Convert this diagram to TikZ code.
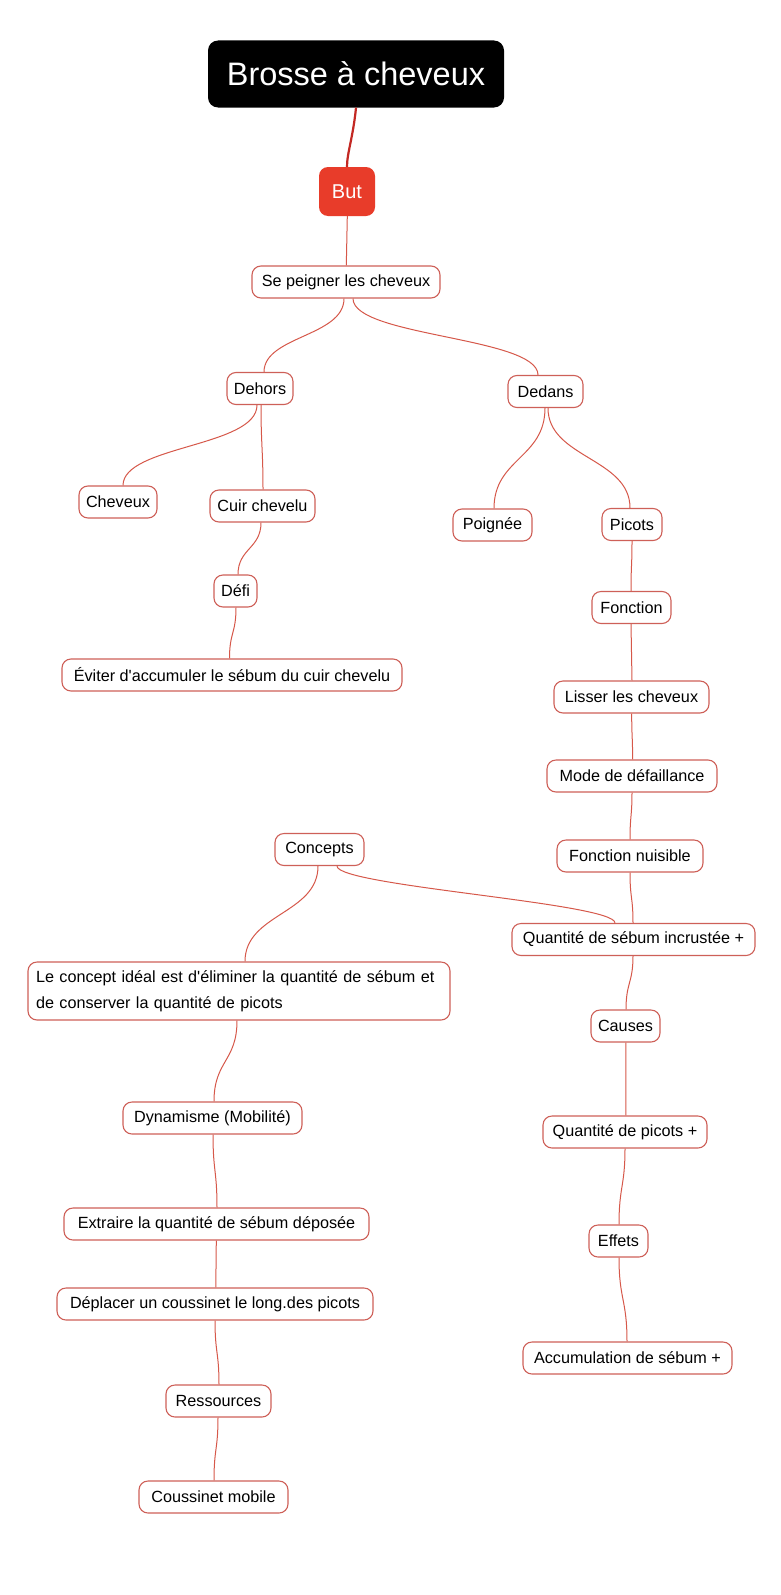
\documentclass[tikz,border=0pt]{standalone}
\usepackage{fontspec}
\setmainfont{Liberation Sans}[Ligatures=TeXOff]
\usetikzlibrary{calc}
\definecolor{edgec}{RGB}{214,88,74}
\definecolor{boxc}{RGB}{206,96,88}
\definecolor{butred}{RGB}{232,60,42}
\definecolor{rootline}{RGB}{195,40,35}
\tikzset{
  box/.style={draw=boxc, line width=1.1pt, rounded corners=9pt, fill=white,
    minimum height=32pt, inner xsep=4pt, inner ysep=3pt,
    font=\fontsize{16.2}{20}\selectfont, text=black},
  edge/.style={draw=edgec, line width=1pt},
}
\begin{document}
\begin{tikzpicture}[x=1pt,y=-1pt]
\useasboundingbox[fill=white] (0,0) rectangle (780,1595);

% nodes
\node[fill=black, rounded corners=10pt, minimum width=296pt, minimum height=67pt,
  text=white, font=\fontsize{32.5}{36}\selectfont] (title) at (356,74) {Brosse à cheveux};
\node[fill=butred, rounded corners=9pt, minimum width=56pt, minimum height=49pt,
  text=white, font=\fontsize{20}{24}\selectfont] (but) at (347,191.5) {But};

\node[box, minimum width=188pt] (sp) at (346,282) {Se peigner les cheveux};
\node[box, minimum width=66pt] (dehors) at (260,388.5) {Dehors};
\node[box, minimum width=75pt] (dedans) at (545.5,391.5) {Dedans};
\node[box, minimum width=78pt] (cheveux) at (118,502) {Cheveux};
\node[box, minimum width=105pt] (cuir) at (262.5,506) {Cuir chevelu};
\node[box, minimum width=43pt] (defi) at (235.5,591) {Défi};
\node[box, minimum width=340pt] (eviter) at (232,675) {Éviter d'accumuler le sébum du cuir chevelu};
\node[box, minimum width=79pt] (poignee) at (492.5,525) {Poignée};
\node[box, minimum width=60pt] (picots) at (632,524.5) {Picots};
\node[box, minimum width=79pt] (fonction) at (631.5,607.5) {Fonction};
\node[box, minimum width=155pt] (lisser) at (631.5,697) {Lisser les cheveux};
\node[box, minimum width=170pt] (mode) at (632,776) {Mode de défaillance};
\node[box, minimum width=146pt] (fn) at (630,856) {Fonction nuisible};
\node[box, minimum width=89pt] (concepts) at (319.5,849.5) {Concepts};
\node[box, minimum width=243pt] (qsi) at (633.5,939.5) {Quantité de sébum incrustée +};
\node[box, minimum height=58pt, text width=406pt, inner xsep=8pt, align=left,
  font=\fontsize{16.2}{26}\selectfont] (lci) at (239,991)
  {Le concept idéal est d'éliminer la quantité de sébum et\\de conserver la quantité de picots};
\node[box, minimum width=179pt] (dyn) at (212.5,1118) {Dynamisme (Mobilité)};
\node[box, minimum width=69pt] (causes) at (625.5,1026) {Causes};
\node[box, minimum width=164pt] (qdp) at (625,1132) {Quantité de picots +};
\node[box, minimum width=59pt] (effets) at (618.5,1241) {Effets};
\node[box, minimum width=209pt] (acc) at (627.5,1358) {Accumulation de sébum +};
\node[box, minimum width=305pt] (extraire) at (216.5,1224) {Extraire la quantité de sébum déposée};
\node[box, minimum width=316pt] (deplacer) at (215,1304) {Déplacer un coussinet le long.des picots};
\node[box, minimum width=105pt] (ressources) at (218.5,1401) {Ressources};
\node[box, minimum width=149pt] (coussinet) at (213.5,1497) {Coussinet mobile};

% edges
\draw[draw=rootline, line width=2.2pt] (title.south) .. controls +(-3,30) and +(0,-14) .. (but.north);
\draw[edge] ([xshift=0.3pt]but.south) -- ([xshift=0.3pt]sp.north);
\draw[edge] ([xshift=-2pt]sp.south) .. controls +(0,38) and +(0,-36) .. ([xshift=4pt]dehors.north);
\draw[edge] ([xshift=7pt]sp.south) .. controls +(0,38) and +(0,-38) .. ([xshift=-7.5pt]dedans.north);
\draw[edge] ([xshift=-3pt]dehors.south) .. controls +(0,42) and +(0,-40) .. ([xshift=5pt]cheveux.north);
\draw[edge] ([xshift=1pt]dehors.south) .. controls +(0,40) and +(0,-40) .. ([xshift=0.5pt]cuir.north);
\draw[edge] ([xshift=-1.5pt]cuir.south) .. controls +(0,26) and +(0,-26) .. ([xshift=2.5pt]defi.north);
\draw[edge] ([xshift=0.5pt]defi.south) .. controls +(0,26) and +(0,-26) .. ([xshift=-2.5pt]eviter.north);
\draw[edge] ([xshift=-0.5pt]dedans.south) .. controls +(0,50) and +(0,-50) .. ([xshift=1.5pt]poignee.north);
\draw[edge] ([xshift=2.5pt]dedans.south) .. controls +(0,50) and +(0,-50) .. ([xshift=-2pt]picots.north);
\draw[edge] (picots.south) .. controls +(0,26) and +(0,-26) .. ([xshift=-0.5pt]fonction.north);
\draw[edge] ([xshift=-0.5pt]fonction.south) .. controls +(0,29) and +(0,-29) .. ([xshift=0.5pt]lisser.north);
\draw[edge] ([xshift=0.2pt]lisser.south) .. controls +(0,24) and +(0,-24) .. ([xshift=0.6pt]mode.north);
\draw[edge] (mode.south) .. controls +(0,24) and +(0,-24) .. (fn.north);
\draw[edge] (fn.south) .. controls +(0,26) and +(0,-26) .. ([xshift=-0.5pt]qsi.north);
\draw[edge] ([xshift=17.5pt]concepts.south) .. controls +(0,20) and +(0,-20) .. ([xshift=-18.5pt]qsi.north);
\draw[edge] ([xshift=-1.5pt]concepts.south) .. controls +(0,48) and +(0,-48) .. ([xshift=6pt]lci.north);
\draw[edge] ([xshift=-2pt]lci.south) .. controls +(0,41) and +(0,-41) .. ([xshift=1.5pt]dyn.north);
\draw[edge] ([xshift=0.5pt]dyn.south) .. controls +(0,37) and +(0,-37) .. ([xshift=0.5pt]extraire.north);
\draw[edge] ([xshift=-0.2pt]extraire.south) .. controls +(0,24) and +(0,-24) .. ([xshift=0.8pt]deplacer.north);
\draw[edge] (deplacer.south) .. controls +(0,32) and +(0,-32) .. ([xshift=0.5pt]ressources.north);
\draw[edge] ([xshift=-0.5pt]ressources.south) .. controls +(0,32) and +(0,-32) .. ([xshift=0.5pt]coussinet.north);
\draw[edge] ([xshift=-0.5pt]qsi.south) .. controls +(0,27) and +(0,-27) .. ([xshift=0.5pt]causes.north);
\draw[edge] ([xshift=0.3pt]causes.south) .. controls +(0,37) and +(0,-37) .. ([xshift=0.9pt]qdp.north);
\draw[edge] (qdp.south) .. controls +(0,38) and +(0,-38) .. ([xshift=0.5pt]effets.north);
\draw[edge] ([xshift=0.5pt]effets.south) .. controls +(0,42) and +(0,-42) .. ([xshift=-0.5pt]acc.north);
\end{tikzpicture}
\end{document}
